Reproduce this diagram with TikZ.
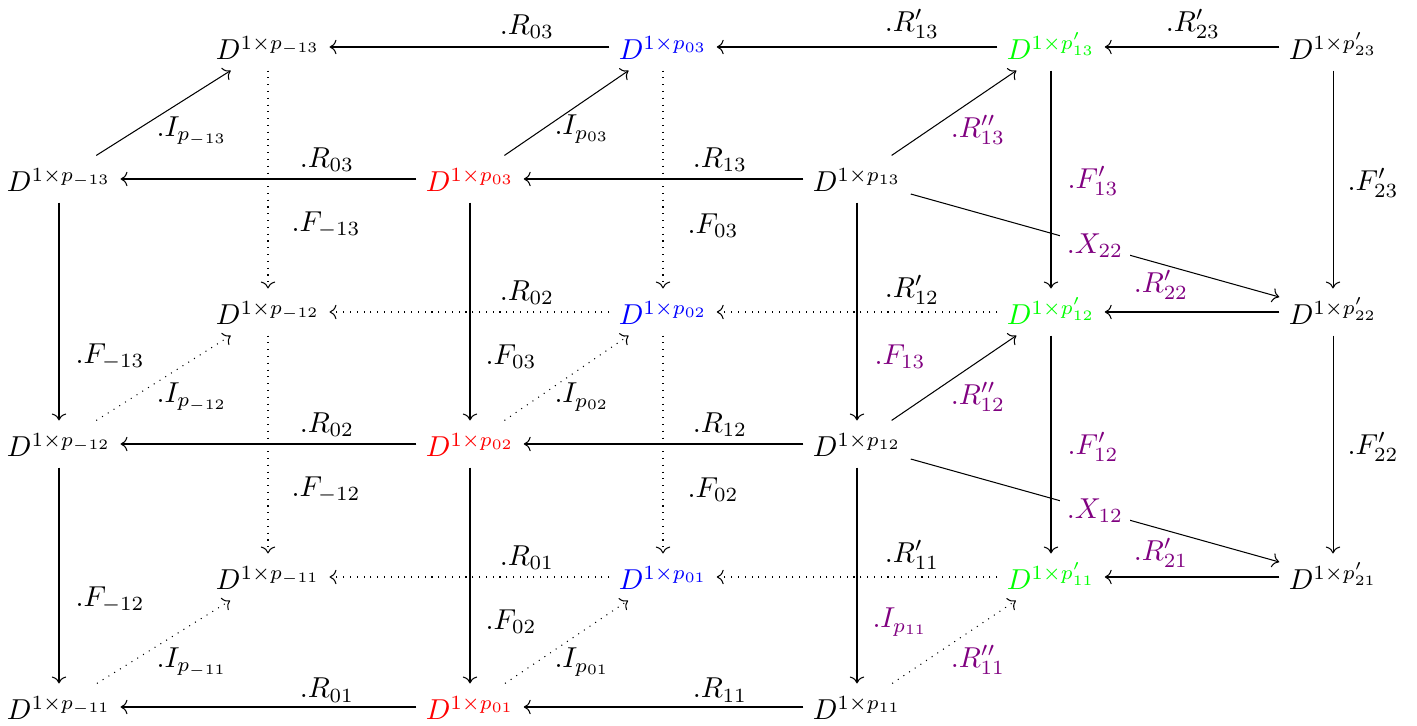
\documentclass[tikz,border=0pt]{standalone}
\usetikzlibrary{arrows.meta}
\definecolor{lilac}{rgb}{0.5,0,0.5}
\definecolor{grn}{rgb}{0,1,0}
\begin{document}
\begin{tikzpicture}[x=0.3472pt,y=-0.3472pt,
  obj/.style={inner xsep=3.1pt, inner ysep=1.86pt, text height=10.6pt, text depth=1.64pt},
  lbl/.style={inner sep=0pt},
  plbl/.style={lbl, text=lilac},
  arr/.style={-{Computer Modern Rightarrow}, line width=0.36pt},
  dots/.style={arr, dotted},
  desc/.style={fill=white, inner sep=2.5pt, text=lilac}]
\useasboundingbox (0,0) rectangle (1417,726);
% nodes
\node[obj] (A2) at (59,179) {$D^{1\times p_{-13}}$};
\node[obj] (A4) at (59,444) {$D^{1\times p_{-12}}$};
\node[obj] (A6) at (59,707) {$D^{1\times p_{-11}}$};
\node[obj] (B1) at (268,47) {$D^{1\times p_{-13}}$};
\node[obj] (B3) at (268,312) {$D^{1\times p_{-12}}$};
\node[obj] (B5) at (268,577) {$D^{1\times p_{-11}}$};
\node[obj,text=red] (C2) at (470,179) {$D^{1\times p_{03}}$};
\node[obj,text=red] (C4) at (470,444) {$D^{1\times p_{02}}$};
\node[obj,text=red] (C6) at (470,707) {$D^{1\times p_{01}}$};
\node[obj,text=blue] (D1) at (663,47) {$D^{1\times p_{03}}$};
\node[obj,text=blue] (D3) at (663,312) {$D^{1\times p_{02}}$};
\node[obj,text=blue] (D5) at (663,577) {$D^{1\times p_{01}}$};
\node[obj] (E2) at (857,179) {$D^{1\times p_{13}}$};
\node[obj] (E4) at (857,444) {$D^{1\times p_{12}}$};
\node[obj] (E6) at (857,707) {$D^{1\times p_{11}}$};
\node[obj,text=grn] (F1) at (1051,47) {$D^{1\times p'_{13}}$};
\node[obj,text=grn] (F3) at (1051,312) {$D^{1\times p'_{12}}$};
\node[obj,text=grn] (F5) at (1051,577) {$D^{1\times p'_{11}}$};
\node[obj] (G1) at (1333,47) {$D^{1\times p'_{23}}$};
\node[obj] (G3) at (1333,312) {$D^{1\times p'_{22}}$};
\node[obj] (G5) at (1333,577) {$D^{1\times p'_{21}}$};
% dotted edges first
\draw[dots] (B1) -- (B3);
\draw[dots] (B3) -- (B5);
\draw[dots] (D1) -- (D3);
\draw[dots] (D3) -- (D5);
\draw[dots] (D3) -- (B3);
\draw[dots] (F3) -- (D3);
\draw[dots] (D5) -- (B5);
\draw[dots] (F5) -- (D5);
\draw[dots] (A4) -- (B3);
\draw[dots] (A6) -- (B5);
\draw[dots] (C4) -- (D3);
\draw[dots] (C6) -- (D5);
\draw[dots] (E6) -- (F5);
% solid edges
\draw[arr] (D1) -- (B1);
\draw[arr] (F1) -- (D1);
\draw[arr] (G1) -- (F1);
\draw[arr] (C2) -- (A2);
\draw[arr] (E2) -- (C2);
\draw[arr] (G3) -- (F3);
\draw[arr] (C4) -- (A4);
\draw[arr] (E4) -- (C4);
\draw[arr] (G5) -- (F5);
\draw[arr] (C6) -- (A6);
\draw[arr] (E6) -- (C6);
\draw[arr] (A2) -- (A4);
\draw[arr] (A4) -- (A6);
\draw[arr] (C2) -- (C4);
\draw[arr] (C4) -- (C6);
\draw[arr] (E2) -- (E4);
\draw[arr] (E4) -- (E6);
\draw[arr] (F1) -- (F3);
\draw[arr] (F3) -- (F5);
\draw[arr] (G1) -- (G3);
\draw[arr] (G3) -- (G5);
\draw[arr] (A2) -- (B1);
\draw[arr] (C2) -- (D1);
\draw[arr] (E2) -- (F1);
\draw[arr] (E4) -- (F3);
\draw[arr] (E2) -- node[desc] (x22) {$.X_{22}$} (G3);
\draw[arr] (E4) -- node[desc] (x12) {$.X_{12}$} (G5);
% labels
\node[lbl] (l1) at (527,27) {$.R_{03}$};
\node[lbl] (l2) at (912,24) {$.R'_{13}$};
\node[lbl] (l3) at (1193,24) {$.R'_{23}$};
\node[lbl] (l4) at (192,131) {$.I_{p_{-13}}$};
\node[lbl] (l5) at (582,129) {$.I_{p_{03}}$};
\node[plbl] (l6) at (978,130) {$.R''_{13}$};
\node[lbl] (l7) at (327,160) {$.R_{03}$};
\node[lbl] (l8) at (720,160) {$.R_{13}$};
\node[plbl] (l9) at (1093,181) {$.F'_{13}$};
\node[lbl] (l10) at (1373,183) {$.F'_{23}$};
\node[lbl] (l11) at (326,225) {$.F_{-13}$};
\node[lbl] (l12) at (713,226) {$.F_{03}$};
\node[plbl] (l13) at (1161,285) {$.R'_{22}$};
\node[lbl] (l14) at (527,293) {$.R_{02}$};
\node[lbl] (l15) at (912,290) {$.R'_{12}$};
\node[lbl] (l16) at (110,357) {$.F_{-13}$};
\node[lbl] (l17) at (511,357) {$.F_{03}$};
\node[plbl] (l18) at (900,357) {$.F_{13}$};
\node[lbl] (l19) at (192,397) {$.I_{p_{-12}}$};
\node[lbl] (l20) at (582,397) {$.I_{p_{02}}$};
\node[plbl] (l21) at (978,397) {$.R''_{12}$};
\node[lbl] (l22) at (327,425) {$.R_{02}$};
\node[lbl] (l23) at (720,425) {$.R_{12}$};
\node[plbl] (l24) at (1093,447) {$.F'_{12}$};
\node[lbl] (l25) at (1373,447) {$.F'_{22}$};
\node[lbl] (l26) at (326,490) {$.F_{-12}$};
\node[lbl] (l27) at (713,490) {$.F_{02}$};
\node[plbl] (l28) at (1161,553) {$.R'_{21}$};
\node[lbl] (l29) at (527,558) {$.R_{01}$};
\node[lbl] (l30) at (912,555) {$.R'_{11}$};
\node[lbl] (l31) at (110,600) {$.F_{-12}$};
\node[lbl] (l32) at (511,622) {$.F_{02}$};
\node[plbl] (l33) at (900,622) {$.I_{p_{11}}$};
\node[lbl] (l34) at (192,662) {$.I_{p_{-11}}$};
\node[lbl] (l35) at (582,662) {$.I_{p_{01}}$};
\node[plbl] (l36) at (978,660) {$.R''_{11}$};
\node[lbl] (l37) at (327,690) {$.R_{01}$};
\node[lbl] (l38) at (720,690) {$.R_{11}$};
\end{tikzpicture}
\end{document}
